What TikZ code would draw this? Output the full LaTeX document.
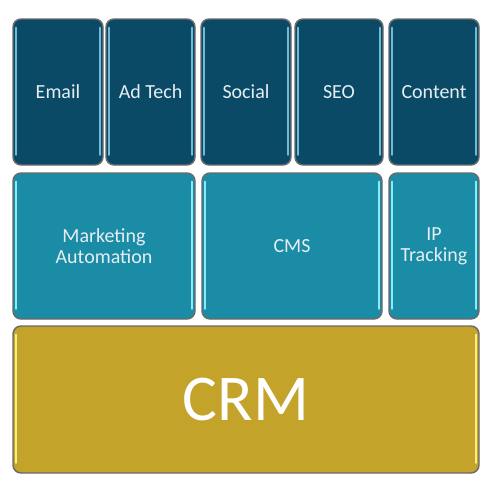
\documentclass[tikz,border=0pt]{standalone}
\usepackage{fontspec}
\setmainfont{Carlito}
\definecolor{topc}{HTML}{0B4A66}
\definecolor{midc}{HTML}{1A8CA6}
\definecolor{crmc}{HTML}{C4A32A}
\definecolor{edgec}{HTML}{6A6A6A}
\definecolor{hltop}{HTML}{6FBAD6}
\definecolor{hlmid}{HTML}{8AEAF7}
\definecolor{hlcrm}{HTML}{FAEE80}
\definecolor{txtc}{HTML}{E6EEF2}
\tikzset{
  tile/.style={draw=edgec, line width=1.1pt, rounded corners=6pt, inner sep=0pt,
    text=txtc, font=\fontsize{15}{16}\selectfont, align=center},
  toptile/.style={tile, fill=topc},
  midtile/.style={tile, fill=midc},
  crmtile/.style={tile, fill=crmc, text=white, font=\fontsize{49}{52}\selectfont},
  hl/.style={line width=1.5pt, line cap=round}
}
\newcommand\mytile[8]{%
  \node[#6, minimum width={(#4-#2)*0.75pt}, minimum height={(#5-#3)*0.75pt}]
    (#1) at ({(#2+#4)/2},{(#3+#5)/2}) {#8};
  \path[draw=#7, hl] (#1.north west) ++(3pt,-7pt) -- ++(0,{-(#5-#3)*0.75pt+14pt});
  \path[draw=#7, hl] (#1.north east) ++(-3pt,-7pt) -- ++(0,{-(#5-#3)*0.75pt+14pt});
}
\begin{document}
\begin{tikzpicture}[x=0.75pt, y=-0.75pt]
\useasboundingbox[fill=white] (0,0) rectangle (497,496);
\mytile{email}{13}{19}{103}{165}{toptile}{hltop}{Email}
\mytile{adtech}{106}{19}{195}{165}{toptile}{hltop}{Ad Tech}
\mytile{social}{201}{19}{291}{165}{toptile}{hltop}{Social}
\mytile{seo}{295}{19}{383}{165}{toptile}{hltop}{SEO}
\mytile{content}{389}{19}{479}{165}{toptile}{hltop}{Content}
\mytile{ma}{13}{173}{195}{319}{midtile}{hlmid}{Marketing\\Automation}
\mytile{cms}{202}{173}{382}{319}{midtile}{hlmid}{CMS}
\mytile{ip}{389}{173}{479}{319}{midtile}{hlmid}{IP\\Tracking}
\mytile{crm}{13}{326}{479}{473}{crmtile}{hlcrm}{CRM}
\end{tikzpicture}
\end{document}
